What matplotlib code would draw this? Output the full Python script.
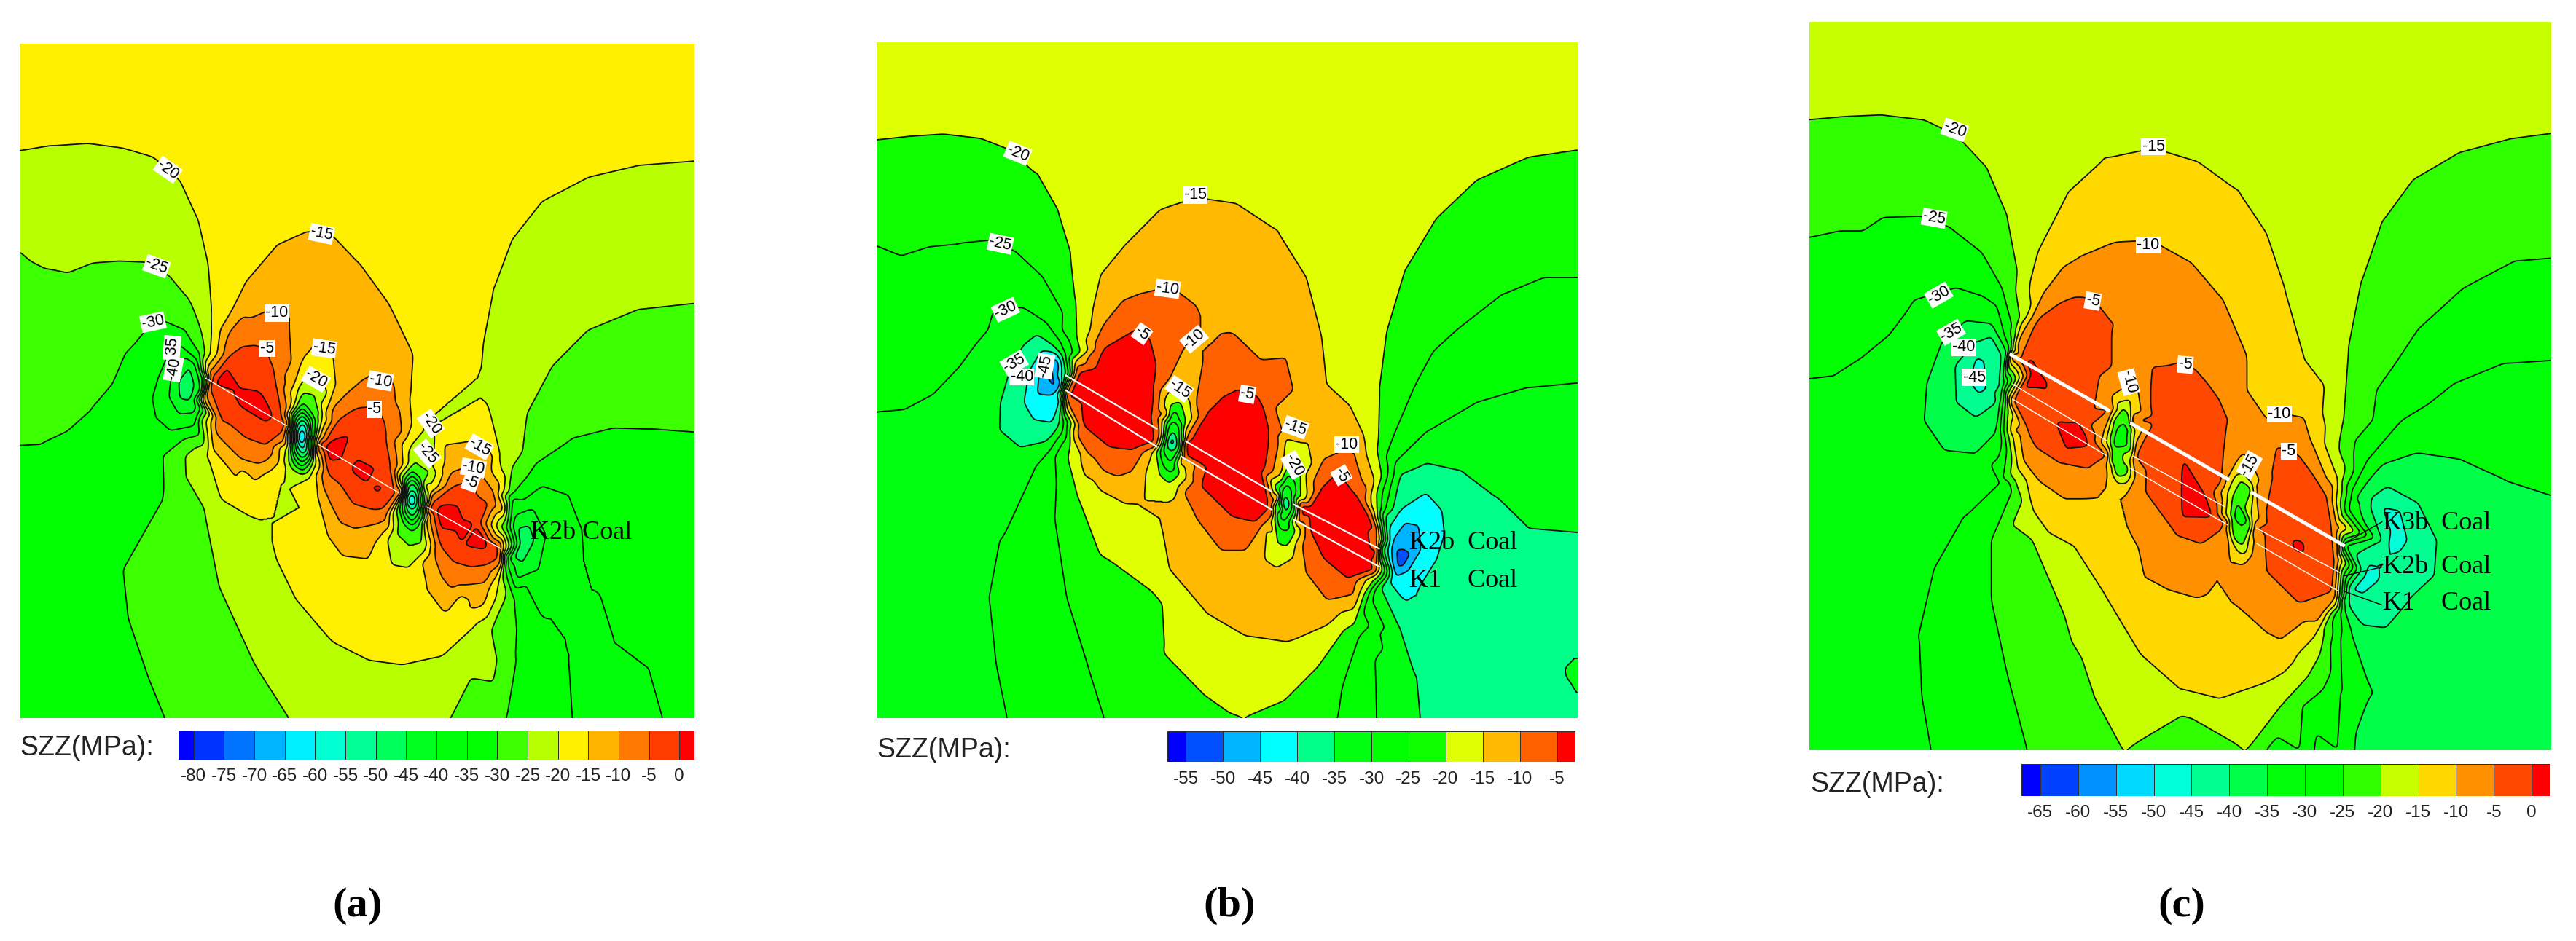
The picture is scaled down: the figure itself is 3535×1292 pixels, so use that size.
import matplotlib
matplotlib.use("Agg")
import matplotlib.pyplot as plt
from matplotlib.colors import ListedColormap
import matplotlib.tri as mtri
import numpy as np

W, H = 3535, 1292

# ---------- panel (a): stress samples (x, y in view units; SZZ in MPa)
a_p0 = [(422,640),(430,628),(470,650),(530,692),(520,700),(470,675),(638,745),(645,738),(700,770),(745,812),(738,818),(690,785),(855,852),(862,844),(905,870),(950,905),(945,912),(895,885)]
a_p5 = [(435,637),(475,663),(520,695),(645,745),(700,778),(740,814),(862,851),(900,878),(945,908)]
a_m5 = [(415,625),(450,590),(470,578),(500,575),(530,590),(535,615),(540,640),(550,690),(558,708),(408,650),(430,700),(480,730),(520,742),(555,718),
        (625,735),(660,700),(680,688),(700,680),(725,678),(745,680),(750,700),(755,730),(765,780),(772,815),(625,745),(640,790),(690,840),(730,850),(772,825),
        (845,835),(885,810),(920,800),(955,840),(975,910),(838,850),(860,910),(920,945),(975,930)]
a_m10 = [(405,620),(440,570),(490,530),(530,515),(565,530),(570,600),(562,705),(400,660),(420,720),(470,765),(520,768),(555,735),
         (620,730),(650,680),(700,640),(735,622),(770,640),(785,720),(785,822),(620,750),(640,830),(690,880),(745,870),(777,830),
         (842,825),(880,790),(930,775),(965,820),(980,905),(835,860),(850,930),(900,975),(950,970),(980,935)]
a_m15 = [(405,610),(430,550),(480,470),(540,410),(600,387),(650,395),(700,440),(760,510),(805,590),(800,660),(785,740),(788,815),
         (398,670),(415,750),(460,795),(500,800),(545,770),(560,742),
         (575,640),(590,600),(620,570),(650,595),(655,640),(635,690),(622,732),
         (618,760),(622,830),(640,890),(670,925),(720,930),(760,880),(778,835),
         (835,815),(870,770),(925,735),(965,760),(985,850),(985,912),(832,870),(835,980),(870,1020),(920,1015),(975,955)]
a_m20 = [(37,252),(100,243),(170,239),(240,247),(300,262),(350,300),(385,365),(405,440),(412,520),(410,590),(402,622),
         (1358,268),(1250,275),(1150,295),(1060,335),(1000,400),(965,480),(945,570),(941,610),(950,670),(975,760),(985,850),(987,918),
         (396,665),(405,760),(430,830),(490,860),(525,855),(540,800),(558,748),
         (618,770),(600,850),(540,880),(540,930),(580,1000),(650,1070),(720,1100),(790,1108),(860,1095),(930,1040),(975,970),(983,935),
         (580,660),(600,625),(625,625),(640,655),(628,700),
         (805,740),(825,695),(850,720),(845,780),(840,815),(780,832),(757,900),(765,940),(800,945),(830,920),(835,862),
         (560,748),(558,790),(575,808),(605,795),(615,762)]
a_m25 = [(37,418),(60,435),(90,448),(130,455),(180,438),(230,435),(285,437),(330,460),(370,500),(395,560),(399,624),
         (393,700),(400,850),(430,980),(500,1110),(565,1197),
         (1358,505),(1250,515),(1150,550),(1080,610),(1030,690),(1000,780),(990,850),(988,921),
         (985,940),(960,1050),(920,1130),(880,1197),
         (578,680),(590,655),(615,660),(625,690),(618,725),(810,770),(825,750),(840,785),(838,820),
         (775,850),(775,890),(800,910),(825,905),(832,860),(565,760),(570,780),(590,790),(610,770)]
a_m30 = [(37,740),(80,738),(130,718),(180,680),(220,640),(245,590),(270,575),(275,545),(320,535),(360,550),(390,590),(397,626),
         (390,725),(320,830),(240,950),(250,1030),(290,1130),(322,1197),
         (1358,720),(1280,715),(1200,713),(1120,730),(1050,770),(1005,820),(990,880),(986,925),(988,950),(1005,1000),(1007,1100),(988,1197),
         (572,690),(590,672),(608,690),(612,730),(608,770),(590,785),(572,770),(566,728),
         (790,800),(805,785),(822,800),(830,835),(822,870),(805,885),(788,870),(782,835)]
a_m35 = [(350,575),(385,600),(396,630),(392,680),(380,710),(335,718),(305,695),(298,665),(310,630),(330,590),
         (1000,830),(1060,810),(1110,825),(1135,880),(1130,950),(1170,988),(1125,980),(1130,1015),(1200,1070),(1270,1115),(1297,1197),
         (992,945),(1060,1030),(1110,1090),(1118,1197)]
a_m40 = [(360,595),(385,620),(392,650),(380,688),(350,690),(330,660),(335,625),(1005,860),(1040,848),(1065,890),(1050,950),(1010,965),(998,935),
         (575,700),(590,685),(605,700),(605,760),(590,772),(575,755),(792,810),(805,798),(818,810),(818,855),(805,870),(792,855)]
a_m45 = [(370,610),(380,640),(372,668),(350,665),(348,635),(1010,880),(1035,875),(1045,900),(1020,940),(1002,930)]
a_m50 = [(580,708),(590,698),(600,708),(600,750),(590,758),(580,745),(797,820),(806,812),(814,822),(814,845),(806,855),(797,845)]
a_m60 = [(584,718),(592,712),(597,725),(592,742),(584,735)]
a_bands = [(37,73,-17),(700,73,-17),(1358,73,-17),(700,250,-17),(200,120,-17),(1200,150,-17),(900,300,-17),(500,300,-17),
           (37,330,-22),(200,330,-22),(300,370,-22),(1358,400,-22),(1150,430,-22),(1000,620,-22),
           (37,570,-27),(150,540,-27),(37,680,-27),(280,490,-27),(350,530,-27),(1358,620,-27),(1150,640,-27),(1040,750,-27),
           (37,1000,-32),(37,1197,-32),(150,1000,-32),(200,1197,-32),(200,780,-32),(300,760,-32),(1358,800,-32),(1200,780,-32),(1358,1000,-32),(1358,1197,-32),
           (350,1000,-27),(440,1197,-27),(930,1197,-27),(720,1197,-22),(500,1000,-22),(450,900,-22),(950,1100,-22),(780,1000,-17),(600,950,-17),(900,1000,-17),
           (1050,1197,-32),(1030,1050,-32),(1200,1197,-37),(1150,1050,-37),(1090,880,-37),
           (590,728,-72),(805,835,-65),(362,645,-48),(1020,905,-48),
           (600,470,-12),(720,560,-12),(470,790,-17),(690,900,-12),
           (480,510,-12),(650,520,-12),(740,560,-12),(780,640,-12),(680,640,-12),(880,755,-12),(950,790,-12),(500,785,-12),(880,1000,-12),(940,995,-12),(720,905,-12),
           (460,555,-7),(540,550,-7),(700,660,-7),(770,700,-7),(440,720,-7),(510,755,-7),(680,860,-7),(750,860,-7),(890,800,-7),(950,820,-7),(880,950,-7),(950,950,-7),
           (510,650,-1),(450,650,-1),(690,720,-1),(730,740,-1),(720,810,-1),(670,770,-1),(900,840,-1),(930,870,-1),(900,910,-1),(950,925,-1)]

# ---------- panel (b)
b_m5 = [(470,620),(520,580),(550,565),(580,550),(610,565),(623,610),(620,640),(615,690),(622,733),(680,735),(720,690),(750,665),(785,650),(820,660),(835,685),(845,720),(845,838),
        (905,840),(945,815),(975,790),(1000,810),(1020,830),(1040,860),(1050,880),(1056,915),(620,740),(580,750),(530,745),(480,710),(450,660),
        (680,760),(710,810),(770,860),(820,870),(848,850),(905,860),(950,930),(1000,965),(1050,950)]
b_m10 = [(465,610),(520,540),(590,490),(650,478),(700,510),(712,550),(770,555),(825,600),(855,680),(862,740),(862,825),
         (714,600),(700,670),(682,728),(640,690),(650,630),(680,575),(700,552),(630,722),
         (618,745),(575,785),(520,785),(470,730),(448,670),(675,770),(700,860),(750,915),(800,915),(845,880),(852,855),
         (900,870),(915,950),(960,1000),(1010,990),(1055,945),(905,835),(950,765),(990,750),(1025,800),(1045,860),(1056,900)]
b_m15 = [(465,600),(500,510),(560,410),(630,350),(700,330),(780,340),(860,385),(915,460),(945,560),(955,640),(1000,675),(1030,730),(1050,800),(1057,880),
         (615,755),(600,825),(560,838),(500,800),(460,720),(445,668),(635,700),(650,650),(672,640),(690,670),(680,730),
         (678,770),(660,830),(635,880),(650,950),(720,1020),(800,1060),(880,1070),(960,1040),(1020,990),(1052,958),
         (868,790),(875,730),(895,700),(920,740),(915,790),(900,835),(865,850),(840,880),(835,930),(860,945),(890,930),(905,880),(900,855)]
b_m20 = [(76,233),(140,227),(210,223),(280,230),(340,250),(390,290),(430,350),(455,420),(465,500),(467,560),(460,615),
         (1447,250),(1350,262),(1250,300),(1170,365),(1110,450),(1075,550),(1060,650),(1055,750),(1055,850),(1058,915),
         (443,665),(455,740),(470,830),(510,920),(570,1010),(640,1090),(720,1160),(770,1190),(795,1197),(870,1170),(940,1110),(1010,1040),(1050,965),
         (640,700),(650,675),(670,670),(680,700),(678,730),(625,750),(630,790),(650,805),(668,790),(672,755),
         (870,800),(885,770),(905,780),(905,830),(855,860),(860,905),(880,910),(895,885),(895,860)]
b_m25 = [(76,408),(125,425),(180,410),(240,405),(300,400),(350,420),(400,460),(440,520),(460,590),(455,620),
         (440,665),(425,760),(425,860),(450,1000),(490,1110),(522,1197),(1055,970),(1020,1060),(985,1150),(977,1197),
         (1447,462),(1380,462),(1300,490),(1210,550),(1130,640),(1085,730),(1065,820),(1060,917),
         (862,815),(878,790),(895,805),(895,840),(880,885),(862,880),(855,850)]
b_m30 = [(76,686),(130,682),(190,655),(240,610),(270,575),(295,550),(305,520),(360,512),(410,540),(445,590),(452,622),
         (438,662),(385,780),(320,900),(298,1000),(310,1100),(333,1197),(1058,975),(1050,1100),(1053,1197),
         (1447,637),(1350,645),(1250,670),(1150,720),(1090,770),(1070,850),(1062,917),
         (866,825),(878,805),(888,820),(888,850),(875,870),(862,860),(645,715),(655,700),(668,712),(668,750),(652,772),(638,755)]
b_m35 = [(445,625),(420,575),(390,558),(365,575),(340,610),(320,670),(318,715),(360,745),(410,735),(435,700),(440,670),
         (1070,860),(1100,790),(1150,772),(1220,785),(1290,830),(1350,880),(1447,887),(1062,980),(1100,1050),(1130,1130),(1137,1197),
         (1447,1058),(1440,1070),(1447,1075),(1425,1115),(1447,1105),(1447,1158),(1430,1130),
         (648,725),(656,712),(662,725),(660,750),(650,755),(643,745),(870,830),(878,820),(882,835),(880,850),(870,850)]
b_m40 = [(430,590),(400,585),(375,620),(365,670),(385,700),(420,705),(435,665),(1080,900),(1100,850),(1150,822),(1180,850),(1185,890),(1170,930),(1130,970),(1140,1000),(1110,1003),(1080,970)]
b_m45 = [(425,600),(405,595),(392,635),(390,655),(420,655),(435,640),(1085,900),(1110,870),(1135,875),(1140,915),(1115,950),(1090,960)]
b_m50 = [(425,605),(415,635),(420,652),(430,640),(1090,915),(1105,915),(1108,945),(1092,945)]
b_bands = [(76,70,-17),(760,70,-17),(1447,70,-17),(760,200,-17),(300,130,-17),(1200,150,-17),
           (76,330,-22),(250,320,-22),(1447,350,-22),(1250,400,-22),(76,550,-27),(200,520,-27),(350,470,-27),(1447,550,-27),(1200,600,-27),
           (76,900,-32),(76,1197,-32),(200,1197,-32),(200,800,-32),(1447,760,-32),(1200,740,-32),
           (400,1197,-27),(370,950,-27),(650,1197,-22),(600,1000,-22),(1010,1197,-27),(1020,1120,-27),(1090,1197,-32),(1085,1090,-32),
           (1447,1000,-37),(1447,1197,-37),(1250,1197,-37),(1250,1000,-37),(1250,870,-37),(1447,1130,-33),
           (1112,925,-52),(418,630,-52),(654,735,-45),(875,838,-45),
           (700,420,-12),(800,480,-12),(550,480,-12),(760,1000,-12),(880,1000,-12),(700,950,-12),
           (540,810,-12),(490,770,-12),(950,1020,-12),(1000,715,-12),(900,560,-12),(925,650,-12),(880,720,-12),
           (630,520,-7),(780,600,-7),(840,650,-7),(1000,770,-7),(560,770,-7),(490,735,-7),(770,890,-7),(960,970,-7),(690,820,-7),(920,900,-7),
           (540,640,-1),(560,700,-1),(780,740,-1),(790,820,-1),(980,860,-1),(1000,920,-1),(700,740,-1),(930,850,-1),(500,670,-1),
           (520,620,-1),(580,600,-1),(600,680,-1),(760,690,-1),(810,700,-1),(820,780,-1),(740,780,-1),(960,830,-1),(1020,870,-1),(960,900,-1),(1030,930,-1)]

# ---------- panel (c)
c_p0 = [(497,602),(505,600),(535,640),(530,646),(558,710),(562,706),(620,738),(615,744),(758,808),(762,804),(860,856),(856,862),(1022,902),(1035,908),(1032,918),(1020,910)]
c_p5 = [(515,622),(590,725),(810,832),(1028,910)]
c_m5 = [(470,590),(520,530),(560,505),(590,495),(610,495),(640,500),(665,540),(665,610),(660,682),(705,702),(740,630),(770,612),(800,605),(830,620),(850,640),(875,670),(890,700),(885,750),(880,800),(885,870),
        (945,810),(985,745),(1000,750),(1030,760),(1060,795),(1085,830),(1095,880),(1100,930),(470,670),(500,720),(560,770),(620,780),(655,760),
        (710,760),(730,820),(790,890),(840,905),(880,880),(945,880),(965,950),(1030,1005),(1095,985)]
c_m10 = [(480,570),(530,490),(600,430),(670,405),(740,402),(820,440),(880,500),(925,590),(925,650),(900,780),(965,700),(1000,690),(1050,730),(1095,810),(1112,880),(950,800),
         (473,720),(520,800),(570,830),(620,830),(655,775),(708,790),(715,910),(770,980),(830,995),(870,950),(888,880),(940,900),(925,1020),(970,1055),(1040,1035),(1100,995),
         (650,720),(665,660),(690,625),(715,650),(712,710),(658,790),(665,820),(690,825),(705,800),(710,760),
         (885,800),(920,755),(945,790),(945,820),(888,880),(895,925),(920,940),(935,925),(945,880)]
c_m15 = [(487,540),(520,420),(580,320),(650,265),(745,248),(830,270),(910,320),(965,390),(1000,480),(1040,600),(1080,710),(1105,800),(1112,885),
         (470,725),(480,780),(510,850),(590,910),(650,990),(720,1090),(800,1150),(870,1165),(970,1135),(1060,1060),(1102,1005),
         (655,740),(672,672),(700,680),(708,720),(665,775),(675,805),(695,805),(700,770),
         (890,820),(920,790),(940,810),(935,860),(893,885),(900,905),(920,925),(930,900)]
c_m20 = [(75,200),(140,195),(220,192),(300,200),(360,225),(420,280),(460,360),(480,450),(485,530),(470,585),
         (1520,223),(1440,232),(1340,255),(1250,300),(1190,370),(1150,470),(1125,580),(1115,700),(1112,800),(1113,900),
         (462,680),(475,800),(510,900),(570,1020),(630,1160),(687,1250),(928,1250),(1000,1170),(1070,1090),(1105,1012),
         (668,700),(685,680),(700,700),(703,750),(695,790),(675,795),(662,770),(660,730),(900,825),(915,800),(935,820),(935,875),(920,910),(900,895),(895,860)]
c_m25 = [(75,395),(130,385),(180,385),(220,362),(290,360),(350,380),(410,420),(450,480),(470,570),
         (452,800),(430,900),(430,1000),(460,1120),(500,1250),(1030,1250),(1075,1150),(1107,1015),
         (1520,430),(1450,435),(1350,480),(1260,550),(1180,650),(1135,760),(1115,902),
         (675,710),(690,695),(698,715),(690,780),(675,780),(668,745),(908,835),(925,815),(930,870),(915,900),(903,865)]
c_m30 = [(75,630),(125,625),(180,595),(230,560),(265,520),(280,500),(360,480),(415,495),(455,560),
         (450,802),(380,860),(320,950),(290,1060),(295,1160),(313,1250),(1105,1250),(1112,1150),(1110,1020),
         (1520,600),(1430,605),(1330,640),(1230,700),(1160,770),(1125,850),(1117,905)]
c_m35 = [(460,590),(430,540),(380,535),(335,570),(305,640),(300,700),(340,750),(400,755),(440,720),(450,660),
         (1183,1250),(1170,1150),(1130,1050),(1115,1000),(1520,825),(1430,800),(1340,765),(1260,755),(1190,775),(1140,830),(1118,908)]
c_m40 = [(450,590),(430,560),(400,570),(360,610),(362,670),(400,695),(440,670),(448,640),
         (1125,990),(1150,950),(1190,900),(1170,830),(1200,812),(1260,840),(1295,900),(1290,960),(1240,1000),(1195,1045),(1150,1040),(1125,1010)]
c_m45 = [(400,595),(415,600),(420,650),(405,657),(390,640),(1190,845),(1225,850),(1240,900),(1225,920),(1200,910),(1130,985),(1160,940),(1190,930),(1185,965),(1150,990)]
c_bands = [(75,37,-17),(800,37,-17),(1520,37,-17),(800,170,-17),(300,110,-17),(1250,150,-17),
           (75,300,-22),(250,280,-22),(1520,330,-22),(1300,400,-22),(75,520,-27),(220,450,-27),(350,430,-27),(1520,520,-27),(1250,620,-27),
           (75,900,-32),(75,1250,-32),(200,1250,-32),(200,800,-32),(1520,700,-32),(1300,710,-32),
           (400,1250,-27),(370,1050,-27),(600,1250,-22),(560,1100,-22),(800,1210,-22),(980,1250,-27),(1050,1180,-27),(1070,1250,-32),
           (1150,1250,-37),(1520,1000,-37),(1520,1250,-37),(1350,1250,-37),(1400,950,-37),
           (405,625,-47),(1215,880,-47),(1160,965,-47),(682,735,-32),(915,860,-32),
           (800,1050,-12),(700,970,-12),(1000,1090,-12),(850,340,-12),(700,330,-12),(600,380,-12),(950,500,-12),(980,620,-12),(1050,680,-12),(560,880,-12),
           (700,450,-7),(820,520,-7),(600,460,-7),(570,800,-7),(770,950,-7),(980,1030,-7),(1020,720,-7),(905,640,-7),(500,760,-7),(1070,1020,-7),(930,980,-7),(850,950,-7),(890,750,-7),
           (560,600,-1),(800,750,-1),(1020,880,-1),(600,700,-1),(520,620,-1),(620,600,-1),(620,730,-1),(530,700,-1),(800,650,-1),(760,700,-1),(840,700,-1),(800,830,-1),(750,780,-1),(850,820,-1),
           (1000,790,-1),(1050,830,-1),(980,880,-1),(1040,950,-1),(1080,950,-1)]

# ---------- colour scales
a_levels = [-80,-75,-70,-65,-60,-55,-50,-45,-40,-35,-30,-25,-20,-15,-10,-5,0]
a_colors = ['#0000ff','#0033ff','#0073ff','#00b4ff','#00f0ff','#00ffd2','#00ff96','#00ff5a','#00ff1e','#00ff08','#00ff00','#3cff00','#b8ff00','#fff000','#ffb400','#ff7800','#ff3c00','#ff0000']
b_levels = [-55,-50,-45,-40,-35,-30,-25,-20,-15,-10,-5]
b_colors = ['#0000ff','#0050ff','#00b4ff','#00ffff','#00ff88','#00ff10','#00ff00','#10ff00','#e0ff00','#ffb900','#ff6000','#ff0000']
c_levels = [-65,-60,-55,-50,-45,-40,-35,-30,-25,-20,-15,-10,-5,0]
c_colors = ['#0000ff','#0040ff','#0090ff','#00d8ff','#00ffd8','#00ff90','#00ff48','#00ff08','#00ff00','#30ff00','#c8ff00','#ffd800','#ff9000','#ff4800','#ff0000']

# ---------- labels inside the fields: text, x, y, rotation
a_labels = [('-20',327,283,-35),('-25',305,444,-20),('-30',298,537,12),('-35',335,580,85),('-40',338,615,80),('-15',628,390,-12),('-10',540,522,0),('-5',522,581,0),
            ('-15',633,581,-8),('-20',617,632,-30),('-10',743,635,-10),('-5',731,682,0),('-20',842,706,-55),('-25',835,756,-50),('-15',937,745,-30),('-10',925,780,-10),('-5',920,804,-20)]
b_labels = [('-20',352,255,-22),('-25',318,406,-12),('-30',328,516,25),('-35',345,605,30),('-40',360,628,0),('-45',405,610,80),('-15',699,325,0),('-10',645,481,-8),('-5',595,556,-35),
            ('-10',697,565,40),('-15',668,648,-35),('-5',801,657,-10),('-15',895,712,-20),('-20',892,775,-60),('-10',995,741,0),('-5',985,792,-60)]
c_labels = [('-20',358,217,-20),('-25',318,364,-10),('-30',327,492,30),('-35',351,554,30),('-40',376,579,0),('-45',396,629,0),('-15',745,245,0),('-10',735,409,0),('-5',627,502,-10),
            ('-10',697,637,-75),('-5',807,608,-5),('-10',990,690,0),('-5',1009,752,0),('-15',932,775,60)]

a_names = ['K2b Coal']
a_name_pos = [(1037,888)]
b_names = ['K2b  Coal','K1    Coal']
b_name_pos = [(1118,905),(1118,968)]
c_names = ['K3b  Coal','K2b  Coal','K1    Coal']
c_name_pos = [(1192,872),(1192,945),(1192,1005)]

a_seam = [[(400,630),(560,710)],[(620,740),(780,822)],[(835,845),(980,915)]]
b_seam = [[(445,625),(625,715)],[(680,735),(850,820)],[(890,840),(1060,915)],[(445,650),(625,745)],[(670,760),(850,850)],[(890,865),(1060,945)]]
c_seam_main = [[(465,590),(660,685)],[(700,705),(893,800)],[(935,820),(1118,910)]]
c_seam = [[(470,640),(655,735)],[(705,760),(885,845)],[(945,880),(1110,955)],[(470,665),(655,760)],[(700,780),(890,875)],[(945,905),(1105,985)]]
c_leaders = [[(1190,870),(1118,905)],[(1190,945),(1115,960)],[(1190,1008),(1115,985)]]

A_ISO = {5:a_p5,0:a_p0,-5:a_m5,-10:a_m10,-15:a_m15,-20:a_m20,-25:a_m25,-30:a_m30,-35:a_m35,-40:a_m40,-45:a_m45,-50:a_m50,-60:a_m60}
B_ISO = {-5:b_m5,-10:b_m10,-15:b_m15,-20:b_m20,-25:b_m25,-30:b_m30,-35:b_m35,-40:b_m40,-45:b_m45,-50:b_m50}
C_ISO = {5:c_p5,0:c_p0,-5:c_m5,-10:c_m10,-15:c_m15,-20:c_m20,-25:c_m25,-30:c_m30,-35:c_m35,-40:c_m40,-45:c_m45}

SANS = 'Liberation Sans'
SERIF = 'Liberation Serif'

fig = plt.figure(figsize=(W/100, H/100), dpi=100, facecolor='white')

def rect(x0, y0, x1, y1):
    return [x0/W, 1-y1/H, (x1-x0)/W, (y1-y0)/H]

def soften(F, n=7):
    """Light box smoothing of the sampled field so contour lines lose the facets of the triangulation."""
    k = np.ones(n)/n
    for _ in range(2):
        P = np.pad(F, n, mode='edge')
        P = np.apply_along_axis(lambda r: np.convolve(r, k, mode='same'), 0, P)
        P = np.apply_along_axis(lambda r: np.convolve(r, k, mode='same'), 1, P)
        F = P[n:-n, n:-n]
    return F

def panel(box, extent, iso, extra, levels, colors, labels, names, name_pos, seam, cbar, szz_xy, tag, tag_xy, seam_lw=1.0):
    ax = fig.add_axes(rect(*box))
    xs, ys, zs = [], [], []
    seen = set()
    for v, pts in iso.items():
        for p in pts:
            if p in seen: continue
            seen.add(p); xs.append(p[0]); ys.append(p[1]); zs.append(v)
    for x, y, v in extra:
        if (x, y) in seen: continue
        seen.add((x, y)); xs.append(x); ys.append(y); zs.append(v)
    tri = mtri.Triangulation(np.array(xs, float), np.array(ys, float))
    z = np.array(zs, float)
    gx = np.linspace(extent[0]+0.01, extent[1]-0.01, box[2]-box[0])
    gy = np.linspace(extent[2]+0.01, extent[3]-0.01, box[3]-box[1])
    X, Y = np.meshgrid(gx, gy)
    F = mtri.LinearTriInterpolator(tri, z)(X, Y)
    F = np.ma.filled(F, np.nan)
    F = np.where(np.isnan(F), np.nanmean(F), F)
    F = soften(F)
    lev = [-500] + list(levels) + [500]
    ax.contourf(X, Y, F, levels=lev, colors=colors)
    ax.contour(X, Y, F, levels=levels, colors='#101010', linewidths=1.3, linestyles='solid')
    ax.set_xlim(extent[0], extent[1]); ax.set_ylim(extent[3], extent[2])
    ax.axis('off')
    for s in seam:
        ax.plot(*zip(*s), color='white', lw=seam_lw, solid_capstyle='butt')
    for t, x, y, r in labels:
        ax.text(x, y, t, fontsize=15.5, family=SANS, rotation=r, ha='center', va='center', rotation_mode='anchor',
                bbox=dict(facecolor='white', edgecolor='none', pad=1.0), zorder=6)
    for t, (x, y) in zip(names, name_pos):
        ax.text(x, y, t, fontsize=26, family=SERIF, ha='left', va='center', color='black', zorder=7)
    cax = fig.add_axes(rect(*cbar))
    step = levels[1]-levels[0]
    edges = [levels[0]-step/2] + list(levels) + [levels[-1]+step/2]
    cmap = ListedColormap(colors)
    cax.pcolormesh(edges, [0, 1], np.arange(len(colors)).reshape(1, -1), cmap=cmap, vmin=-0.5, vmax=len(colors)-0.5,
                   edgecolors='#303030', linewidth=0.7)
    cax.set_xlim(edges[0], edges[-1]); cax.set_yticks([])
    cax.set_xticks(levels); cax.set_xticklabels([str(v) for v in levels], family=SANS, fontsize=17.5, color='#222222')
    cax.tick_params(axis='x', length=0, pad=9)
    for s in cax.spines.values(): s.set_visible(False)
    fig.text(szz_xy[0]/W, 1-szz_xy[1]/H, 'SZZ(MPa):', family=SANS, fontsize=27, color='#222222', ha='left', va='center')
    fig.text(tag_xy[0]/W, 1-tag_xy[1]/H, tag, family=SERIF, fontsize=42, fontweight='bold', ha='center', va='center')
    return ax

ax_a = panel((27,60,953,986),(37,1358,73,1197),A_ISO,a_bands,a_levels,a_colors,a_labels,a_names,a_name_pos,a_seam,(245,1003,953,1043),(27,1027),'(a)',(491,1244))
ax_b = panel((1203,58,2165,986),(76,1447,70,1197),B_ISO,b_bands,b_levels,b_colors,b_labels,b_names,b_name_pos,b_seam,(1602,1004,2162,1046),(1203,1030),'(b)',(1687,1244),seam_lw=1.6)
ax_c = panel((2483,30,3501,1030),(75,1520,37,1250),C_ISO,c_bands,c_levels,c_colors,c_labels,c_names,c_name_pos,c_seam,(2774,1049,3500,1093),(2484,1077),'(c)',(2994,1244))
for s in c_seam_main:
    ax_c.plot(*zip(*s), color='white', lw=3.5, solid_capstyle='butt', zorder=5)
for s in c_leaders:
    ax_c.plot(*zip(*s), color='black', lw=1.0, zorder=5)

fig.savefig('out.png', dpi=100, facecolor='white')
